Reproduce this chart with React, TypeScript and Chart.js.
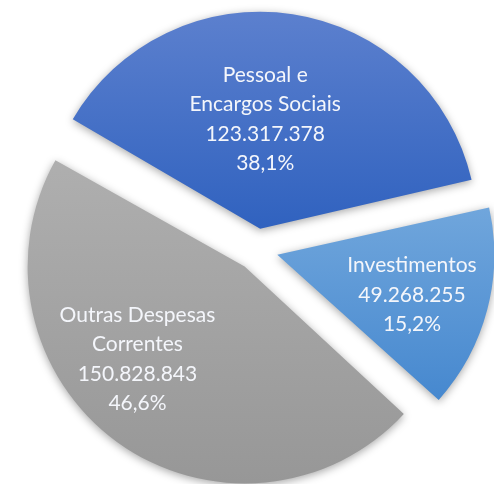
import React, { useEffect, useRef } from "react";
import { Chart, registerables } from "chart.js";

Chart.register(...registerables);

// ---- data ----
const categories: string[][] = [
  ["Pessoal e", "Encargos Sociais"],
  ["Investimentos"],
  ["Outras Despesas", "Correntes"],
];
const values: number[] = [123317378, 49268255, 150828843];

// ---- styles ----
const gradientTop = ["#5c80ce", "#70a6dc", "#afafaf"];
const gradientBottom = ["#3062bf", "#4688cf", "#979797"];

const RADIUS = 217;
const SLICE_OFFSET = 84; // Chart.js translates an arc by offset / 4
const ROTATION = 300;
const labelAngleShift = [-6, 2, 13];
const labelRadiusFrac = [0.506, 0.648, 0.654];
const LINE_HEIGHT = 29.5;
const LABEL_FONT = "21px Lato, sans-serif";
const LABEL_COLOR = "#f4f6fb";

function fmtInt(n: number): string {
  return String(n).replace(/\B(?=(\d{3})+(?!\d))/g, ".");
}
function fmtPct(p: number): string {
  return p.toFixed(1).replace(".", ",") + "%";
}

const total = values.reduce((a, b) => a + b, 0);

function sliceGradient(ctx: any) {
  const chart = ctx.chart;
  const area = chart.chartArea;
  const i = ctx.dataIndex;
  if (!area) return gradientTop[i];
  const cx = (area.left + area.right) / 2;
  const cy = (area.top + area.bottom) / 2;
  let start = ((ROTATION - 90) * Math.PI) / 180;
  for (let j = 0; j < i; j++) start += (values[j] / total) * Math.PI * 2;
  const end = start + (values[i] / total) * Math.PI * 2;
  let minY = cy;
  let maxY = cy;
  for (let k = 0; k <= 90; k++) {
    const a = start + ((end - start) * k) / 90;
    const y = cy + RADIUS * Math.sin(a);
    if (y < minY) minY = y;
    if (y > maxY) maxY = y;
  }
  const g = chart.ctx.createLinearGradient(0, minY, 0, maxY);
  g.addColorStop(0, gradientTop[i]);
  g.addColorStop(1, gradientBottom[i]);
  return g;
}

const piePlugin = {
  id: "pieExtras",
  afterDatasetUpdate(chart: any, args: any) {
    const meta = chart.getDatasetMeta(args.index);
    meta.data.forEach((el: any) => {
      const off = ((el.options && el.options.offset) || 0) / 4;
      const fix = 1 - Math.sin(Math.min(Math.PI, el.circumference || 0));
      el.outerRadius = RADIUS - off * fix;
    });
  },
  beforeDatasetsDraw(chart: any) {
    const ctx = chart.ctx;
    ctx.save();
    ctx.shadowColor = "rgba(0,0,0,0.35)";
    ctx.shadowBlur = 8;
    ctx.shadowOffsetX = 0;
    ctx.shadowOffsetY = 2;
  },
  afterDatasetsDraw(chart: any) {
    const ctx = chart.ctx;
    ctx.restore();
    const meta = chart.getDatasetMeta(0);
    ctx.save();
    ctx.font = LABEL_FONT;
    ctx.fillStyle = LABEL_COLOR;
    ctx.textAlign = "center";
    ctx.textBaseline = "middle";
    meta.data.forEach((el: any, i: number) => {
      const h = (el.startAngle + el.endAngle) / 2;
      const d = ((el.options && el.options.offset) || 0) / 4;
      const bx = el.x + Math.cos(h) * d;
      const by = el.y + Math.sin(h) * d;
      const a = h + (labelAngleShift[i] * Math.PI) / 180;
      const r = labelRadiusFrac[i] * RADIUS;
      const lx = bx + Math.cos(a) * r;
      const ly = by + Math.sin(a) * r;
      const lines = [
        ...categories[i],
        fmtInt(values[i]),
        fmtPct((values[i] / total) * 100),
      ];
      const top = ly - ((lines.length - 1) * LINE_HEIGHT) / 2;
      lines.forEach((t, k) => ctx.fillText(t, lx, top + k * LINE_HEIGHT));
    });
    ctx.restore();
  },
};

export default function App() {
  const canvasRef = useRef<HTMLCanvasElement | null>(null);

  useEffect(() => {
    if (!canvasRef.current) return;
    const chart = new Chart(canvasRef.current, {
      type: "pie",
      data: {
        labels: categories.map((c) => c.join(" ")),
        datasets: [
          {
            data: values,
            backgroundColor: sliceGradient as any,
            borderWidth: 0,
            offset: SLICE_OFFSET,
            radius: RADIUS,
            clip: false as any,
          } as any,
        ],
      },
      options: {
        responsive: true,
        maintainAspectRatio: false,
        animation: false,
        rotation: ROTATION,
        layout: { padding: { left: 20, top: 15, right: 0, bottom: 0 } },
        plugins: {
          legend: { display: false },
          tooltip: { enabled: false },
        },
        events: [],
      } as any,
      plugins: [piePlugin],
    });
    return () => chart.destroy();
  }, []);

  return (
    <div
      style={{
        position: "absolute",
        left: 0,
        top: 0,
        width: 494,
        height: 484,
        background: "#ffffff",
      }}
    >
      <canvas ref={canvasRef} />
    </div>
  );
}
